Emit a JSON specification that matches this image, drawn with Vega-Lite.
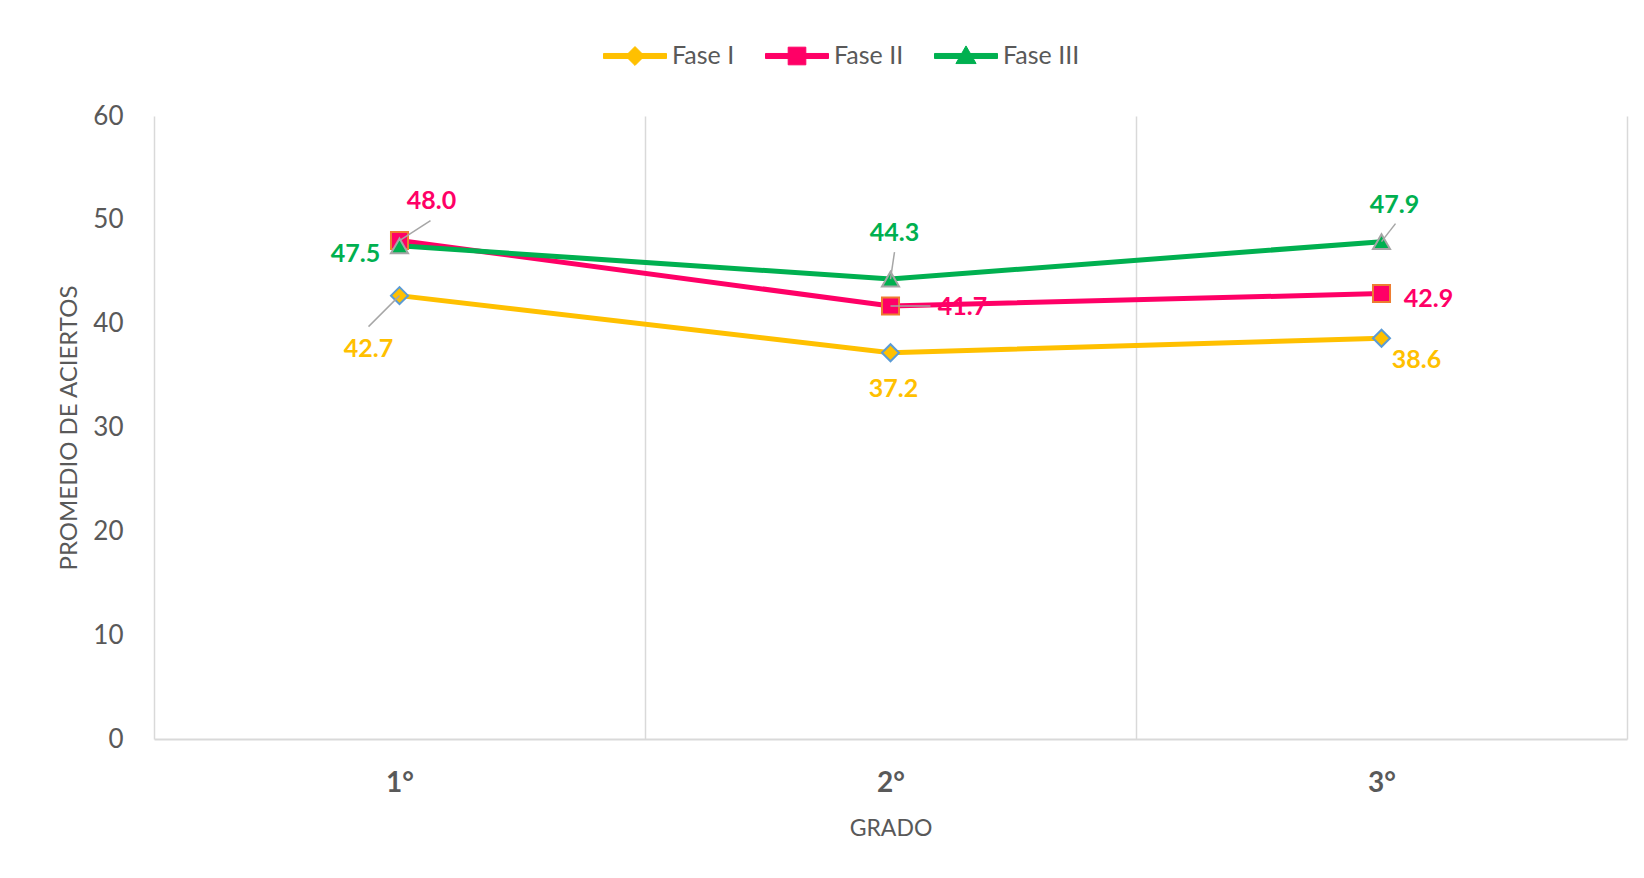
{
  "$schema": "https://vega.github.io/schema/vega-lite/v6.json",
  "autosize": "none",
  "width": 1473,
  "height": 623,
  "padding": {"left": 154, "top": 116, "right": 17, "bottom": 139},
  "background": "#ffffff",
  "config": {
    "view": {"stroke": null},
    "font": "Lato",
    "text": {"font": "Lato"}
  },
  "data": {
    "values": [
      {"Grado": "1°", "Fase": "Fase I", "valor": 42.7},
      {"Grado": "2°", "Fase": "Fase I", "valor": 37.2},
      {"Grado": "3°", "Fase": "Fase I", "valor": 38.6},
      {"Grado": "1°", "Fase": "Fase II", "valor": 48.0},
      {"Grado": "2°", "Fase": "Fase II", "valor": 41.7},
      {"Grado": "3°", "Fase": "Fase II", "valor": 42.9},
      {"Grado": "1°", "Fase": "Fase III", "valor": 47.5},
      {"Grado": "2°", "Fase": "Fase III", "valor": 44.3},
      {"Grado": "3°", "Fase": "Fase III", "valor": 47.9}
    ]
  },
  "encoding": {
    "x": {
      "field": "Grado",
      "type": "nominal",
      "sort": ["1°", "2°", "3°"],
      "scale": {"paddingInner": 0, "paddingOuter": 0},
      "axis": {
        "title": "GRADO",
        "labelAngle": 0,
        "labelFont": "Lato",
        "labelFontSize": 28,
        "labelFontWeight": "bold",
        "labelColor": "#595959",
        "labelPadding": 30,
        "ticks": false,
        "grid": true,
        "gridColor": "#D9D9D9",
        "gridWidth": 1.5,
        "tickBand": "extent",
        "domainColor": "#D9D9D9",
        "domainWidth": 2,
        "titleFont": "Lato",
        "titleFontSize": 23,
        "titleFontWeight": "normal",
        "titleColor": "#595959",
        "titlePadding": 20
      }
    },
    "y": {
      "field": "valor",
      "type": "quantitative",
      "scale": {"domain": [0, 60], "nice": false},
      "axis": {
        "title": "PROMEDIO DE ACIERTOS",
        "values": [0, 10, 20, 30, 40, 50, 60],
        "domain": false,
        "ticks": false,
        "grid": false,
        "labelFont": "Lato",
        "labelFontSize": 26,
        "labelColor": "#595959",
        "labelPadding": 31,
        "titleFont": "Lato",
        "titleFontSize": 24,
        "titleFontWeight": "normal",
        "titleColor": "#595959",
        "titlePadding": 11
      }
    }
  },
  "layer": [
    {
      "mark": {"type": "line", "strokeWidth": 5},
      "encoding": {
        "color": {
          "field": "Fase",
          "type": "nominal",
          "scale": {"domain": ["Fase I", "Fase II", "Fase III"], "range": ["#FFC000", "#FF0066", "#00B050"]},
          "legend": {
            "orient": "none",
            "legendX": 449,
            "legendY": -92,
            "direction": "horizontal",
            "title": null,
            "padding": 0,
            "symbolSize": 3969,
            "symbolType": "M-1,-0.08L1,-0.08L1,0.08L-1,0.08Z",
            "labelFont": "Lato",
            "labelFontSize": 25,
            "labelColor": "#595959",
            "labelOffset": 5,
            "columnPadding": 28,
            "encode": {
              "symbols": {
                "update": {
                  "shape": {"signal": "datum.value === 'Fase I' ? 'M-1,-0.08L1,-0.08L1,0.08L-1,0.08Z M0,-0.3L0.3,0L0,0.3L-0.3,0Z' : datum.value === 'Fase II' ? 'M-1,-0.08L1,-0.08L1,0.08L-1,0.08Z M-0.28,-0.28L0.28,-0.28L0.28,0.28L-0.28,0.28Z' : 'M-1,-0.08L1,-0.08L1,0.08L-1,0.08Z M0,-0.32L0.32,0.24L-0.32,0.24Z'"},
                  "fill": {"scale": "color", "field": "value"},
                  "stroke": {"scale": "color", "field": "value"},
                  "strokeWidth": {"value": 1},
                  "opacity": {"value": 1}
                }
              }
            }
          }
        }
      }
    },
    {
      "transform": [{"filter": "datum.Fase === 'Fase I'"}],
      "mark": {"type": "point", "shape": "diamond", "filled": true, "size": 290, "strokeWidth": 2, "opacity": 1, "fill": "#FFC000", "stroke": "#5B9BD5"}
    },
    {
      "transform": [{"filter": "datum.Fase === 'Fase II'"}],
      "mark": {"type": "point", "shape": "square", "filled": true, "size": 290, "strokeWidth": 2, "opacity": 1, "fill": "#FF0066", "stroke": "#ED7D31"}
    },
    {
      "transform": [{"filter": "datum.Fase === 'Fase III'"}],
      "mark": {"type": "point", "shape": "triangle-up", "filled": true, "size": 290, "strokeWidth": 2, "opacity": 1, "fill": "#00B050", "stroke": "#A5A5A5"}
    },
    {
      "transform": [{"filter": "datum.Grado === '1°' && datum.Fase === 'Fase II'"}],
      "mark": {"type": "rule", "color": "#A6A6A6", "strokeWidth": 1.5, "x2Offset": 31, "y2Offset": -20},
      "encoding": {"x2": {"field": "Grado"}, "y2": {"field": "valor"}}
    },
    {
      "transform": [{"filter": "datum.Grado === '1°' && datum.Fase === 'Fase I'"}],
      "mark": {"type": "rule", "color": "#A6A6A6", "strokeWidth": 1.5, "x2Offset": -31, "y2Offset": 31},
      "encoding": {"x2": {"field": "Grado"}, "y2": {"field": "valor"}}
    },
    {
      "transform": [{"filter": "datum.Grado === '2°' && datum.Fase === 'Fase III'"}],
      "mark": {"type": "rule", "color": "#A6A6A6", "strokeWidth": 1.5, "x2Offset": 4, "y2Offset": -27},
      "encoding": {"x2": {"field": "Grado"}, "y2": {"field": "valor"}}
    },
    {
      "transform": [{"filter": "datum.Grado === '2°' && datum.Fase === 'Fase II'"}],
      "mark": {"type": "rule", "color": "#A6A6A6", "strokeWidth": 1.5, "x2Offset": 40, "y2Offset": 0},
      "encoding": {"x2": {"field": "Grado"}, "y2": {"field": "valor"}}
    },
    {
      "transform": [{"filter": "datum.Grado === '3°' && datum.Fase === 'Fase III'"}],
      "mark": {"type": "rule", "color": "#A6A6A6", "strokeWidth": 1.5, "x2Offset": 14, "y2Offset": -18},
      "encoding": {"x2": {"field": "Grado"}, "y2": {"field": "valor"}}
    },
    {
      "transform": [{"filter": "datum.Grado === '1°' && datum.Fase === 'Fase II'"}],
      "mark": {"type": "text", "font": "Lato", "fontSize": 25, "fontWeight": "bold", "color": "#FF0066", "dx": 32, "dy": -40},
      "encoding": {"text": {"field": "valor", "type": "quantitative", "format": ".1f"}}
    },
    {
      "transform": [{"filter": "datum.Grado === '2°' && datum.Fase === 'Fase II'"}],
      "mark": {"type": "text", "font": "Lato", "fontSize": 25, "fontWeight": "bold", "color": "#FF0066", "dx": 72, "dy": 1},
      "encoding": {"text": {"field": "valor", "type": "quantitative", "format": ".1f"}}
    },
    {
      "transform": [{"filter": "datum.Grado === '3°' && datum.Fase === 'Fase II'"}],
      "mark": {"type": "text", "font": "Lato", "fontSize": 25, "fontWeight": "bold", "color": "#FF0066", "dx": 47, "dy": 5},
      "encoding": {"text": {"field": "valor", "type": "quantitative", "format": ".1f"}}
    },
    {
      "transform": [{"filter": "datum.Grado === '1°' && datum.Fase === 'Fase III'"}],
      "mark": {"type": "text", "font": "Lato", "fontSize": 25, "fontWeight": "bold", "color": "#00B050", "dx": -44, "dy": 8},
      "encoding": {"text": {"field": "valor", "type": "quantitative", "format": ".1f"}}
    },
    {
      "transform": [{"filter": "datum.Grado === '2°' && datum.Fase === 'Fase III'"}],
      "mark": {"type": "text", "font": "Lato", "fontSize": 25, "fontWeight": "bold", "color": "#00B050", "dx": 4, "dy": -46},
      "encoding": {"text": {"field": "valor", "type": "quantitative", "format": ".1f"}}
    },
    {
      "transform": [{"filter": "datum.Grado === '3°' && datum.Fase === 'Fase III'"}],
      "mark": {"type": "text", "font": "Lato", "fontSize": 25, "fontWeight": "bold", "color": "#00B050", "dx": 13, "dy": -37},
      "encoding": {"text": {"field": "valor", "type": "quantitative", "format": ".1f"}}
    },
    {
      "transform": [{"filter": "datum.Grado === '1°' && datum.Fase === 'Fase I'"}],
      "mark": {"type": "text", "font": "Lato", "fontSize": 25, "fontWeight": "bold", "color": "#FFC000", "dx": -31, "dy": 53},
      "encoding": {"text": {"field": "valor", "type": "quantitative", "format": ".1f"}}
    },
    {
      "transform": [{"filter": "datum.Grado === '2°' && datum.Fase === 'Fase I'"}],
      "mark": {"type": "text", "font": "Lato", "fontSize": 25, "fontWeight": "bold", "color": "#FFC000", "dx": 3, "dy": 36},
      "encoding": {"text": {"field": "valor", "type": "quantitative", "format": ".1f"}}
    },
    {
      "transform": [{"filter": "datum.Grado === '3°' && datum.Fase === 'Fase I'"}],
      "mark": {"type": "text", "font": "Lato", "fontSize": 25, "fontWeight": "bold", "color": "#FFC000", "dx": 35, "dy": 22},
      "encoding": {"text": {"field": "valor", "type": "quantitative", "format": ".1f"}}
    }
  ]
}
